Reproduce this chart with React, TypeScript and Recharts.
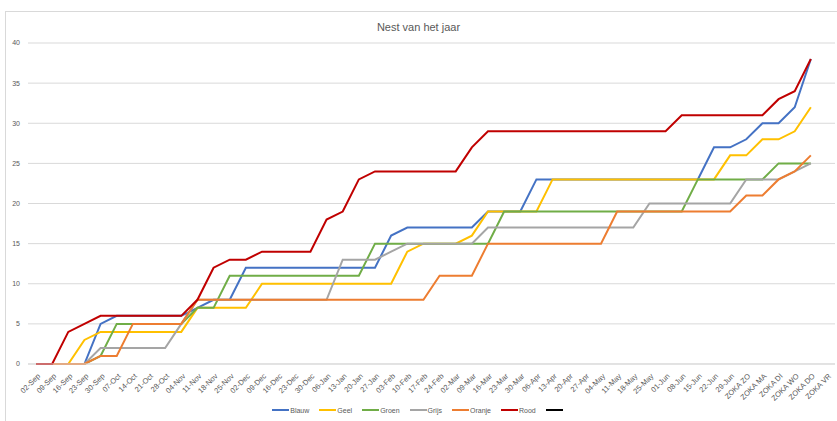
import React from "react";
import { LineChart, Line, XAxis, YAxis, CartesianGrid, Legend } from "recharts";

// ─── Data ────────────────────────────────────────────────────────────────────

const weeks = [
  "02-Sep", "09-Sep", "16-Sep", "23-Sep", "30-Sep",
  "07-Oct", "14-Oct", "21-Oct", "28-Oct",
  "04-Nov", "11-Nov", "18-Nov", "25-Nov",
  "02-Dec", "09-Dec", "16-Dec", "23-Dec", "30-Dec",
  "06-Jan", "13-Jan", "20-Jan", "27-Jan",
  "03-Feb", "10-Feb", "17-Feb", "24-Feb",
  "02-Mar", "09-Mar", "16-Mar", "23-Mar", "30-Mar",
  "06-Apr", "13-Apr", "20-Apr", "27-Apr",
  "04-May", "11-May", "18-May", "25-May",
  "01-Jun", "08-Jun", "15-Jun", "22-Jun", "29-Jun",
  "ZOKA ZO", "ZOKA MA", "ZOKA DI", "ZOKA WO", "ZOKA DO", "ZOKA VR",
];

const blauw = [
  0, 0, 0, 0, 5, 6, 6, 6, 6, 6, 7, 8, 8,
  12, 12, 12, 12, 12, 12, 12, 12, 12, 16, 17, 17, 17, 17, 17,
  19, 19, 19, 23, 23, 23, 23, 23, 23, 23, 23, 23, 23, 23,
  27, 27, 28, 30, 30, 32, 38,
];

const geel = [
  0, 0, 0, 3, 4, 4, 4, 4, 4, 4, 7, 7, 7, 7,
  10, 10, 10, 10, 10, 10, 10, 10, 10, 14, 15, 15, 15, 16,
  19, 19, 19, 19, 23, 23, 23, 23, 23, 23, 23, 23, 23, 23, 23,
  26, 26, 28, 28, 29, 32,
];

const groen = [
  0, 0, 0, 0, 1, 5, 5, 5, 5, 5, 7, 7,
  11, 11, 11, 11, 11, 11, 11, 11, 11,
  15, 15, 15, 15, 15, 15, 15, 15,
  19, 19, 19, 19, 19, 19, 19, 19, 19, 19, 19, 19,
  23, 23, 23, 23, 23, 25, 25, 25,
];

const grijs = [
  0, 0, 0, 0, 2, 2, 2, 2, 2, 5,
  8, 8, 8, 8, 8, 8, 8, 8, 8, 13, 13, 13, 14,
  15, 15, 15, 15, 15, 17, 17, 17, 17, 17, 17, 17, 17, 17, 17,
  20, 20, 20, 20, 20, 20, 23, 23, 23, 24, 25,
];

const oranje = [
  0, 0, 0, 0, 1, 1, 5, 5, 5, 5,
  8, 8, 8, 8, 8, 8, 8, 8, 8, 8, 8, 8, 8, 8, 8,
  11, 11, 11, 15, 15, 15, 15, 15, 15, 15, 15,
  19, 19, 19, 19, 19, 19, 19, 19, 21, 21, 23, 24, 26,
];

const rood = [
  0, 0, 4, 5, 6, 6, 6, 6, 6, 6, 8, 12, 13, 13, 14, 14, 14, 14,
  18, 19, 23, 24, 24, 24, 24, 24, 24, 27,
  29, 29, 29, 29, 29, 29, 29, 29, 29, 29, 29, 29,
  31, 31, 31, 31, 31, 31, 33, 34, 38,
];

const yTicks = [0, 5, 10, 15, 20, 25, 30, 35, 40];

const SERIES = [
  { key: "Blauw", name: "Blauw", color: "#4472C4", values: blauw },
  { key: "Geel", name: "Geel", color: "#FFC000", values: geel },
  { key: "Groen", name: "Groen", color: "#70AD47", values: groen },
  { key: "Grijs", name: "Grijs", color: "#A5A5A5", values: grijs },
  { key: "Oranje", name: "Oranje", color: "#ED7D31", values: oranje },
  { key: "Rood", name: "Rood", color: "#C00000", values: rood },
  { key: "Leeg", name: "", color: "#000000", values: [] as number[] },
];

const data = weeks.map((w, i) => {
  const row: Record<string, string | number | null> = { week: w };
  SERIES.forEach((s) => {
    row[s.key] = s.values[i] ?? null;
  });
  return row;
});

const FONT = "'Liberation Sans', Arial, sans-serif";
const TEXT = "#595959";
const GRID = "#d9d9d9";

// ─── Custom bits ─────────────────────────────────────────────────────────────

function WeekTick({ x, y, payload }: any) {
  const tx = x + 3;
  const ty = y + 9;
  return (
    <text
      x={tx}
      y={ty}
      transform={`rotate(-45, ${tx}, ${ty})`}
      textAnchor="end"
      dy="0.3em"
      fontSize={7.5}
      fill={TEXT}
      fontFamily={FONT}
    >
      {payload.value}
    </text>
  );
}

function LegendBox() {
  return (
    <div
      style={{
        height: 20,
        display: "flex",
        justifyContent: "center",
        alignItems: "center",
        gap: 10,
        fontFamily: FONT,
        fontSize: 7,
        color: TEXT,
      }}
    >
      {SERIES.map((s) => (
        <div key={s.key} style={{ display: "flex", alignItems: "center", height: 10 }}>
          <span style={{ width: 17, height: 2, background: s.color, display: "inline-block" }} />
          {s.name && <span style={{ marginLeft: 1 }}>{s.name}</span>}
        </div>
      ))}
    </div>
  );
}

// ─── Component ───────────────────────────────────────────────────────────────

export default function App() {
  return (
    <div style={{ position: "absolute", left: 0, top: 0, width: 837, height: 421, background: "#fff" }}>
      {/* chart frame */}
      <div
        style={{
          position: "absolute",
          left: 5,
          top: 11,
          right: 0,
          bottom: 0,
          borderTop: `1px solid ${GRID}`,
          borderLeft: `1px solid ${GRID}`,
        }}
      />
      <div
        style={{
          position: "absolute",
          top: 21,
          left: 0,
          width: 837,
          textAlign: "center",
          fontFamily: FONT,
          fontSize: 11,
          color: TEXT,
        }}
      >
        Nest van het jaar
      </div>
      <LineChart width={837} height={421} data={data} margin={{ top: 43, right: 2, left: 0, bottom: 1 }}>
        <CartesianGrid vertical={false} stroke={GRID} />
        <XAxis
          dataKey="week"
          interval={0}
          height={36}
          padding={{ left: 8, right: 8 }}
          axisLine={{ stroke: GRID }}
          tickLine={false}
          tickSize={0}
          tick={<WeekTick />}
        />
        <YAxis
          width={28}
          domain={[0, 40]}
          ticks={yTicks}
          axisLine={false}
          tickLine={false}
          tickSize={0}
          tickMargin={8}
          tick={{ fontSize: 7, fill: TEXT, fontFamily: FONT }}
        />
        <Legend verticalAlign="bottom" content={<LegendBox />} />
        {SERIES.map((s) => (
          <Line
            key={s.key}
            type="linear"
            dataKey={s.key}
            name={s.name}
            stroke={s.color}
            strokeWidth={2}
            dot={false}
            activeDot={false}
            isAnimationActive={false}
          />
        ))}
      </LineChart>
    </div>
  );
}
